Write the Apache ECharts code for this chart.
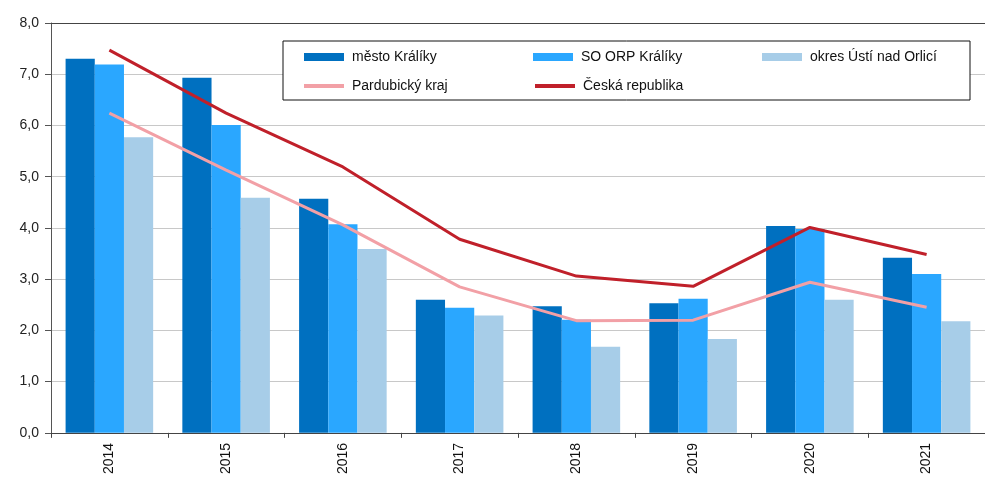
<!DOCTYPE html>
<html>
<head>
<meta charset="utf-8">
<script src="https://cdn.jsdelivr.net/npm/echarts@6/dist/echarts.min.js"></script>
<style>
    html, body { margin: 0; padding: 0; background: #fff; }
    #chart { width: 985px; height: 477px; }
</style>
</head>
<body>
<div id="chart"></div>
<script>
// roky
const years = ['2014', '2015', '2016', '2017', '2018', '2019', '2020', '2021']
const yTicks = [0, 1, 2, 3, 4, 5, 6, 7, 8]

// hodnoty
const mestoKraliky = [7.30, 6.93, 4.57, 2.60, 2.47, 2.53, 4.04, 3.42]
const soOrpKraliky = [7.19, 6.01, 4.07, 2.44, 2.21, 2.62, 3.98, 3.10]
const okresUsti = [5.77, 4.59, 3.59, 2.29, 1.68, 1.83, 2.60, 2.18]
const pardubickyKraj = [6.24, 5.13, 4.06, 2.85, 2.19, 2.20, 2.94, 2.45]
const ceskaRepublika = [7.47, 6.24, 5.19, 3.78, 3.06, 2.86, 4.01, 3.48]

const font = '"Liberation Sans", Arial, sans-serif'

function barSeries (name, data, color) {
    return {
        name: name,
        type: 'bar',
        data: data,
        barGap: '0%',
        barCategoryGap: '25%',
        itemStyle: { color: color }
    }
}

function lineSeries (name, data, color) {
    return {
        name: name,
        type: 'line',
        data: data,
        symbol: 'none',
        z: 5,
        lineStyle: { color: color, width: 3 },
        itemStyle: { color: color }
    }
}

const chart = echarts.init(document.getElementById('chart'), null, { renderer: 'canvas' })

// legenda bez teček na čarách
const lineLegend = { itemStyle: { opacity: 0 }, lineStyle: { width: 4 } }

chart.setOption({
    animation: false,
    textStyle: { fontFamily: font },
    legend: {
        left: 283,
        top: 41,
        width: 680,
        padding: [8, 10, 6, 19],
        itemGap: 13,
        itemWidth: 40,
        itemHeight: 8,
        borderColor: '#111',
        borderWidth: 1,
        backgroundColor: '#fff',
        textStyle: { fontFamily: font, fontSize: 14, color: '#111', width: 168, lineHeight: 16, padding: [0, 0, 0, 3] },
        data: [
            { name: 'město Králíky', icon: 'rect' },
            { name: 'SO ORP Králíky', icon: 'rect' },
            { name: 'okres Ústí nad Orlicí', icon: 'rect', textStyle: { width: 150 } },
            Object.assign({ name: 'Pardubický kraj' }, lineLegend),
            Object.assign({ name: 'Česká republika' }, lineLegend)
        ]
    },
    grid: { left: 51, right: 0, top: 23, bottom: 44 },
    xAxis: [
        {
            type: 'category',
            data: years,
            axisLine: { lineStyle: { color: '#444', width: 1 } },
            axisTick: { show: true, length: 5, lineStyle: { color: '#444' } },
            axisLabel: { rotate: 90, margin: 10, fontSize: 14, color: '#111', fontFamily: font }
        },
        {
            type: 'category',
            position: 'top',
            data: years,
            axisLine: { lineStyle: { color: '#444', width: 1 } },
            axisTick: { show: false },
            axisLabel: { show: false }
        }
    ],
    yAxis: {
        type: 'value',
        min: yTicks[0],
        max: yTicks[yTicks.length - 1],
        interval: 1,
        axisLine: { show: true, lineStyle: { color: '#555', width: 1 } },
        axisTick: { show: true, length: 6, lineStyle: { color: '#555' } },
        axisLabel: {
            fontSize: 14,
            color: '#222',
            margin: 12,
            fontFamily: font,
            formatter: v => v.toFixed(1).replace('.', ',')
        },
        splitLine: { lineStyle: { color: '#c8c8c8', width: 1 } }
    },
    series: [
        barSeries('město Králíky', mestoKraliky, '#0070c0'),
        barSeries('SO ORP Králíky', soOrpKraliky, '#2aa7ff'),
        barSeries('okres Ústí nad Orlicí', okresUsti, '#a7cde8'),
        lineSeries('Pardubický kraj', pardubickyKraj, '#f2a0a6'),
        lineSeries('Česká republika', ceskaRepublika, '#c0202a')
    ]
})
</script>
</body>
</html>
